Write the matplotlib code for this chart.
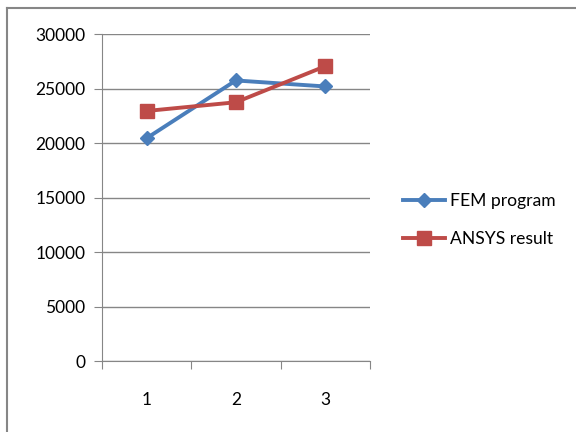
import matplotlib.pyplot as plt
from matplotlib.lines import Line2D

runs = [1, 2, 3]
fem_program = [20450, 25750, 25200]
ansys_result = [22950, 23750, 27050]

plt.rcParams['font.family'] = ['Lato', 'DejaVu Sans']

fig = plt.figure(figsize=(5.76, 4.32), dpi=100)
ax = fig.add_axes([0.177, 0.164, 0.465, 0.757])

ax.plot(runs, fem_program, color='#4A7EBB', lw=2.8, marker='D', ms=7.5, label='FEM program', zorder=3)
ax.plot(runs, ansys_result, color='#BE4B48', lw=2.8, marker='s', ms=9.5, label='ANSYS result', zorder=3)

ax.set_xlim(0.5, 3.5)
ax.set_ylim(0, 30000)
ax.set_yticks(range(0, 30001, 5000))
ax.set_xticks([0.5, 1.5, 2.5, 3.5])
ax.set_xticklabels([])
ax.set_xticks(runs, minor=True)
ax.set_xticklabels([str(r) for r in runs], minor=True)
ax.tick_params(axis='x', which='minor', length=0, pad=22, labelsize=12.5)
ax.tick_params(axis='x', which='major', length=6, color='#868686')
ax.tick_params(axis='y', length=6, color='#868686', labelsize=12.5, pad=6)
ax.grid(axis='y', color='#868686', lw=1)
ax.set_axisbelow(True)
for s in ['top', 'right']:
    ax.spines[s].set_visible(False)
for s in ['left', 'bottom']:
    ax.spines[s].set_color('#868686')

fig.legend(loc='center left', bbox_to_anchor=(0.672, 0.49), frameon=False,
           fontsize=12.6, handlelength=2.4, handletextpad=0.3, labelspacing=1.25)

# chart border (top and left edges visible)
fig.add_artist(Line2D([0.012, 1.0], [0.981, 0.981], color='#868686', lw=1.5, transform=fig.transFigure))
fig.add_artist(Line2D([0.012, 0.012], [0.0, 0.981], color='#868686', lw=1.5, transform=fig.transFigure))

fig.savefig('out.png', dpi=100)
